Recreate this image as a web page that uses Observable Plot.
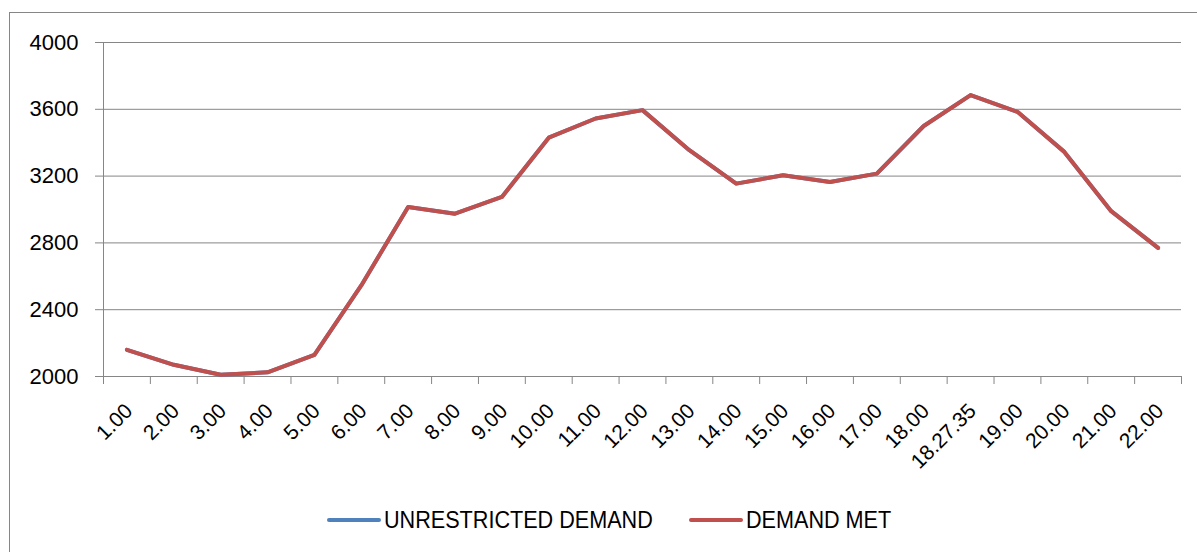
<!DOCTYPE html>
<html>
<head>
<meta charset="utf-8">
<script src="https://cdn.jsdelivr.net/npm/d3@7"></script>
<script src="https://cdn.jsdelivr.net/npm/@observablehq/plot@0.6"></script>
<style>
  body { margin: 0; background: #fff; width: 1197px; height: 552px; overflow: hidden; position: relative; font-family: "Liberation Sans", Arial, sans-serif; }
  #frame { position: absolute; left: 9px; top: 12px; width: 1188px; height: 540px; border-left: 1px solid #868686; border-top: 1px solid #868686; box-sizing: border-box; }
  #chart { position: absolute; left: 0; top: 0; }
  .lg { position: absolute; top: 505px; height: 30px; display: flex; align-items: center; font-family: "Liberation Sans", Arial, sans-serif; font-size: 24px; color: #000; white-space: nowrap; }
  .sw { width: 54px; height: 4px; border-radius: 2px; margin-right: 3px; flex: none; }
  .tx { display: inline-block; transform: scaleX(0.9); transform-origin: left center; }
</style>
</head>
<body>
<div id="frame"></div>
<div id="chart"></div>
<div class="lg" id="lg1" style="left:327px"><span class="sw" id="sw1"></span><span class="tx" id="t1"></span></div>
<div class="lg" id="lg2" style="left:689px"><span class="sw" id="sw2"></span><span class="tx" id="t2"></span></div>
<script>
const categories = ["1.00","2.00","3.00","4.00","5.00","6.00","7.00","8.00","9.00","10.00","11.00","12.00","13.00","14.00","15.00","16.00","17.00","18.00","18.27.35","19.00","20.00","21.00","22.00"];
const unrestrictedDemand = [2160,2070,2010,2025,2130,2545,3015,2975,3075,3430,3545,3595,3355,3155,3205,3165,3215,3500,3685,3585,3345,2990,2770];
const demandMet = [2160,2070,2010,2025,2130,2545,3015,2975,3075,3430,3545,3595,3355,3155,3205,3165,3215,3500,3685,3585,3345,2990,2770];
const yTicks = [2000,2400,2800,3200,3600,4000];
const seriesNames = ["UNRESTRICTED DEMAND","DEMAND MET"];
const seriesColors = ["#4F81BD","#C0504D"];

const idx = categories.map((_, i) => i);
const boundaries = categories.map((_, i) => i - 0.5).concat([categories.length - 0.5]);

const chart = Plot.plot({
  width: 1197,
  height: 480,
  marginLeft: 103,
  marginRight: 16,
  marginTop: 42,
  marginBottom: 104,
  x: {type: "linear", domain: [-0.5, categories.length - 0.5]},
  y: {domain: [2000, 4000]},
  style: {fontFamily: "'Liberation Sans', Arial, sans-serif", fontSize: "20px", color: "#000", background: "transparent"},
  marks: [
    Plot.gridY(yTicks, {stroke: "#868686", strokeOpacity: 1, strokeWidth: 1}),
    Plot.axisY(yTicks, {tickSize: 8, tickPadding: 17, stroke: "#868686", fill: "#000", fontSize: 22, label: null, tickFormat: d => String(d)}),
    Plot.ruleX([-0.5], {y1: 2000, y2: 4000, stroke: "#868686"}),
    Plot.axisX(boundaries, {tickSize: 8, tickFormat: () => "", stroke: "#868686", label: null}),
    Plot.text(idx, {x: i => i, text: i => categories[i], frameAnchor: "bottom", rotate: -45, textAnchor: "end", lineAnchor: "middle", dx: 2, dy: 31, fontSize: 21, fill: "#000"}),
    Plot.line(idx, {x: i => i, y: i => unrestrictedDemand[i], stroke: seriesColors[0], strokeWidth: 4}),
    Plot.line(idx, {x: i => i, y: i => demandMet[i], stroke: seriesColors[1], strokeWidth: 4})
  ]
});
document.getElementById("chart").appendChild(chart);
document.getElementById("sw1").style.background = seriesColors[0];
document.getElementById("sw2").style.background = seriesColors[1];
document.getElementById("t1").textContent = seriesNames[0];
document.getElementById("t2").textContent = seriesNames[1];
</script>
</body>
</html>
